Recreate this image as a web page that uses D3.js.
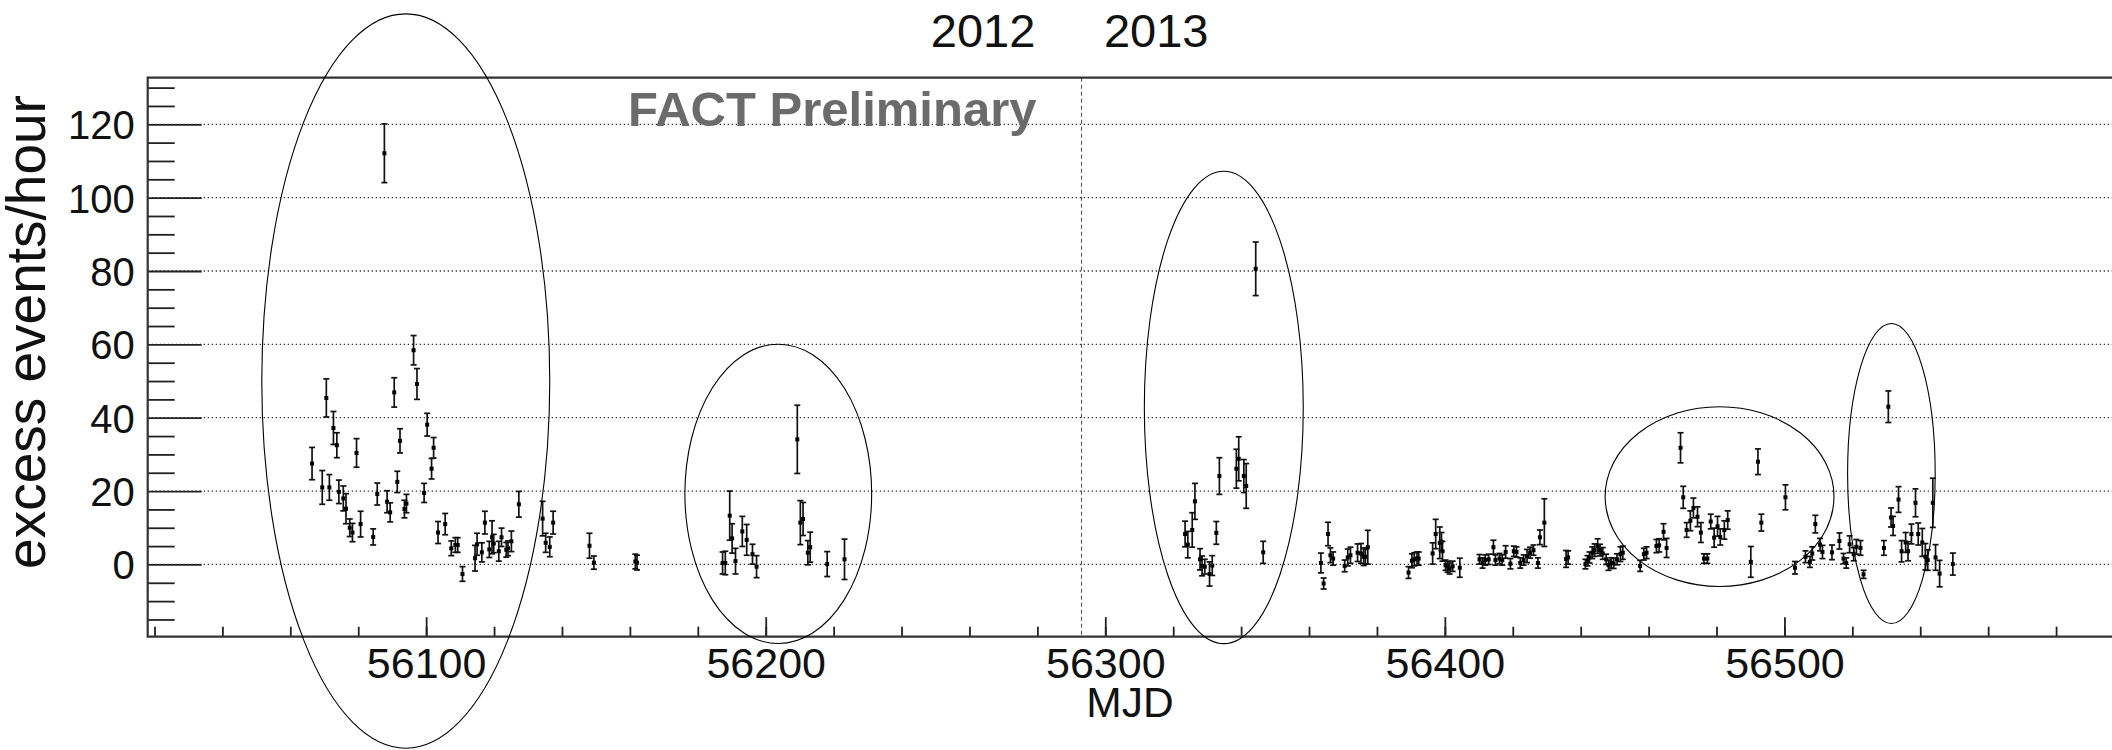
<!DOCTYPE html>
<html>
<head>
<meta charset="utf-8">
<script src="https://cdn.jsdelivr.net/npm/d3@7"></script>
<style>
  body { margin: 0; background: #fff; }
  svg text { font-family: "Liberation Sans", Arial, Helvetica, sans-serif; }
</style>
</head>
<body>
<div id="chart"></div>
<script>
// light curve: MJD, excess rate, error
var mjd = [
  56066.4, 56069.4, 56070.6, 56071.5, 56072.7, 56073.7, 56074.3, 56075.6, 56076.4, 56077.5,
  56078.3, 56079.5, 56080.7, 56084.4, 56085.6, 56087.7, 56088.5, 56089.4, 56090.6, 56091.5,
  56092.3, 56093.6, 56094.2, 56096.3, 56097.3, 56099.4, 56100.3, 56101.6, 56102.2, 56103.5,
  56105.6, 56107.4, 56108.6, 56109.3, 56110.7, 56114.4, 56115.0, 56116.4, 56117.3, 56118.6,
  56119.4, 56119.9, 56121.4, 56122.2, 56123.6, 56124.1, 56125.1, 56127.3, 56134.3, 56135.2,
  56136.4, 56137.4, 56148.1, 56149.4, 56161.6, 56162.1,
  56187.3, 56188.1, 56189.4, 56190.1, 56191.1, 56193.1, 56194.4, 56196.1, 56197.3, 56209.3,
  56210.2, 56211.0, 56212.4, 56213.1, 56218.1, 56223.2,
  56323.5, 56324.3, 56325.6, 56326.4, 56327.9, 56328.5, 56329.3, 56330.7, 56331.5, 56332.7,
  56333.6, 56338.6, 56339.3, 56340.8, 56341.5, 56344.3, 56346.5,
  56363.5, 56364.3, 56365.6, 56366.3, 56367.1, 56370.5, 56371.4, 56372.2, 56374.3, 56375.3,
  56376.1, 56376.6, 56377.3, 56389.3, 56390.3, 56391.0, 56391.8, 56392.3, 56396.4, 56397.3,
  56398.5, 56399.0, 56399.3, 56400.2, 56400.8, 56401.4, 56402.3, 56404.4, 56410.2, 56411.1,
  56411.9, 56412.9, 56414.3, 56414.9, 56416.1, 56416.9, 56417.9, 56419.3, 56420.3, 56421.1,
  56422.2, 56423.2, 56424.2, 56425.1, 56426.1, 56427.4, 56428.0, 56429.3, 56435.7, 56436.3,
  56441.4, 56442.0, 56442.6, 56443.4, 56444.1, 56445.0, 56445.7, 56446.5, 56447.5, 56448.2,
  56449.0, 56449.7, 56450.7, 56451.7, 56452.4, 56457.5, 56458.6, 56459.4, 56462.3, 56463.1,
  56464.4, 56465.3, 56469.4, 56470.2, 56471.2, 56472.3, 56473.2, 56474.4, 56475.4, 56476.3,
  56477.3, 56478.3, 56479.3, 56480.3, 56481.1, 56482.3, 56483.3, 56490.1, 56492.2, 56493.2,
  56500.3, 56503.1, 56506.2, 56507.5, 56508.2, 56509.1, 56510.5, 56511.2, 56514.0, 56516.2,
  56517.4, 56518.2, 56519.2, 56520.4, 56521.2, 56522.4, 56523.3, 56529.3, 56530.6, 56531.4,
  56532.0, 56533.6, 56534.5, 56535.7, 56536.4, 56537.4, 56538.6, 56539.4, 56540.6, 56541.5,
  56542.2, 56543.7, 56544.5, 56545.7, 56549.6
];
var rate = [
  27.5, 21.0, 45.4, 21.0, 37.2, 32.5, 19.8, 18.0, 15.2, 10.0,
  8.7, 30.4, 11.0, 7.5, 19.2, 112.1, 17.1, 14.2, 46.9, 22.5,
  33.7, 15.1, 16.6, 58.4, 49.2, 19.5, 38.1, 26.1, 31.8, 8.7,
  11.0, 4.4, 5.3, 5.3, -2.6, 1.7, 5.5, 3.3, 11.4, 4.1,
  7.4, 5.7, 3.6, 7.4, 4.0, 4.4, 6.3, 16.4, 12.5, 5.9,
  4.8, 11.4, 5.1, 0.5, 0.8, 0.5,
  0.4, 0.4, 13.3, 7.1, 0.9, 9.0, 6.7, 2.8, -0.6, 34.1,
  11.4, 12.4, 3.2, 4.7, 0.1, 1.4,
  8.3, 5.4, 9.4, 17.2, 1.4, -0.4, -0.6, -2.6, -0.3, 8.6,
  24.1, 26.1, 28.8, 24.1, 21.4, 80.6, 3.3,
  0.4, -5.2, 8.3, 2.5, 1.6, -0.4, 1.9, 2.5, 3.2, 3.0,
  2.1, 2.1, 4.7, -2.2, 1.0, 1.4, 1.6, 1.6, 3.0, 8.3,
  5.9, 6.2, 3.6, -0.2, -0.6, -1.1, -0.5, -0.9, 1.4, 0.4,
  1.2, 1.4, 4.7, 1.2, 1.6, 1.2, 3.4, 0.2, 3.6, 3.4,
  0.4, 1.2, 2.3, 3.2, 3.9, 0.4, 7.4, 11.4, 1.5, 1.9,
  0.1, 1.0, 1.9, 3.2, 3.9, 5.0, 3.9, 3.0, 1.4, -0.2,
  0.4, 0.3, 1.4, 2.8, 3.2, -0.4, 2.8, 3.2, 5.0, 5.2,
  8.9, 4.5, 31.8, 18.3, 9.4, 11.9, 15.4, 13.0, 8.7, 1.6,
  1.6, 11.7, 7.3, 10.4, 7.5, 9.4, 12.1, 0.7, 28.0, 11.4,
  18.3, -0.9, 2.1, 0.7, 3.0, 11.0, 5.4, 3.4, 3.3, 6.4,
  1.6, 0.4, 5.5, 2.8, 4.8, 4.5, -2.7, 4.5, 43.0, 12.8,
  10.5, 17.7, 3.6, 6.0, 3.6, 8.3, 16.8, 8.3, 6.0, 2.1,
  1.2, 16.8, 1.9, -2.5, 0.1
];
var rateErr = [
  4.4, 4.6, 5.2, 3.5, 4.5, 3.4, 3.2, 3.4, 4.1, 2.4,
  2.5, 3.9, 3.5, 2.2, 3.0, 8.0, 3.0, 2.6, 4.0, 2.9,
  3.3, 2.4, 2.5, 4.0, 4.2, 2.6, 3.1, 2.8, 2.8, 3.0,
  2.9, 2.0, 2.0, 2.0, 2.0, 3.5, 3.0, 2.6, 3.1, 2.2,
  4.5, 2.5, 2.7, 2.5, 2.0, 2.0, 2.8, 3.5, 4.7, 2.6,
  2.7, 3.1, 3.4, 1.8, 2.0, 2.0,
  3.0, 3.2, 6.7, 4.0, 3.5, 4.1, 4.2, 2.7, 3.0, 9.3,
  6.0, 4.5, 3.3, 4.1, 3.4, 5.5,
  3.5, 3.6, 4.7, 4.9, 2.9, 2.7, 2.0, 3.3, 2.7, 3.1,
  5.0, 5.3, 6.0, 4.5, 6.1, 7.3, 3.0,
  2.7, 1.5, 3.2, 2.0, 1.8, 1.6, 2.3, 2.2, 2.4, 2.7,
  2.4, 2.0, 4.6, 1.6, 1.9, 1.8, 1.8, 1.8, 2.9, 4.0,
  4.3, 2.5, 2.7, 1.4, 1.5, 1.5, 1.4, 2.6, 1.3, 1.4,
  1.4, 1.4, 1.9, 1.4, 1.4, 1.4, 1.7, 1.4, 1.4, 1.4,
  1.4, 1.4, 1.8, 1.5, 1.4, 1.4, 2.0, 6.5, 2.3, 1.8,
  1.3, 1.4, 1.5, 1.6, 1.7, 2.0, 1.6, 1.6, 1.4, 1.4,
  1.4, 1.4, 1.5, 2.0, 1.8, 1.5, 1.6, 1.6, 1.8, 1.8,
  2.2, 2.6, 4.1, 3.0, 2.0, 2.7, 2.7, 2.7, 2.7, 1.3,
  1.3, 2.0, 2.6, 2.7, 2.2, 2.5, 2.5, 4.2, 3.5, 2.3,
  3.4, 1.7, 1.6, 1.5, 1.8, 2.4, 1.7, 1.8, 2.0, 2.2,
  1.4, 1.4, 2.3, 1.8, 2.0, 2.0, 1.1, 2.0, 4.3, 2.6,
  2.6, 3.5, 2.9, 2.7, 2.6, 2.7, 3.8, 3.0, 3.8, 3.6,
  2.8, 6.7, 3.5, 3.6, 3.0
];

// flare regions circled by hand (centre MJD, centre rate, half width in days, half height in rate)
var flareMjd = [56094, 56203.7, 56334.9, 56480.9, 56531.5];
var flareRate = [50.0, 19.25, 42.8, 18.5, 24.8];
var flareHalfDays = [42.4, 27.5, 23.4, 33.7, 12.9];
var flareHalfRate = [100.1, 40.8, 64.4, 24.5, 40.9];

var yMajorTicks = [0, 20, 40, 60, 80, 100, 120];
var yMinorTicks = [-15, -10, -5, 5, 10, 15, 25, 30, 35, 45, 50, 55, 65, 70, 75, 85, 90, 95, 105, 110, 115, 125, 130];
var xMajorTicks = [56100, 56200, 56300, 56400, 56500];
var xMinorTicks = d3.range(56020, 56600, 20);

var yearBoundary = 56293;   // 1 Jan 2013
var years = ["2012", "2013"];
var yearLabelMjd = [56264, 56315];

var W = 2112, H = 750;
var frameLeft = 147.7, frameTop = 77.7, frameBottom = 636.7;

var svg = d3.select("#chart").append("svg")
    .attr("width", W)
    .attr("height", H);
svg.append("rect").attr("width", W).attr("height", H).attr("fill", "#fff");

var x = d3.scaleLinear().domain([56018, 56600]).range([frameLeft, 2124]);
var y = d3.scaleLinear().domain([-19.7, 132.7]).range([frameBottom, frameTop]);

// dotted grid
svg.append("g").selectAll("line")
    .data(yMajorTicks)
  .enter().append("line")
    .attr("x1", frameLeft).attr("x2", W)
    .attr("y1", function(d) { return y(d); })
    .attr("y2", function(d) { return y(d); })
    .attr("stroke", "#333")
    .attr("stroke-width", 1.3)
    .attr("stroke-dasharray", "1.3,2.7");

// 2012/2013 boundary
svg.append("line")
    .attr("x1", x(yearBoundary)).attr("x2", x(yearBoundary))
    .attr("y1", frameTop).attr("y2", frameBottom)
    .attr("stroke", "#555")
    .attr("stroke-width", 1.1)
    .attr("stroke-dasharray", "4,3");

// axes (ROOT style: ticks inside frame)
var yMaj = svg.append("g").attr("transform", "translate(" + frameLeft + ",0)")
    .call(d3.axisRight(y).tickValues(yMajorTicks).tickSize(54).tickFormat(""));
var yMin = svg.append("g").attr("transform", "translate(" + frameLeft + ",0)")
    .call(d3.axisRight(y).tickValues(yMinorTicks).tickSize(27).tickFormat(""));
var yLab = svg.append("g").attr("transform", "translate(" + frameLeft + ",0)")
    .call(d3.axisLeft(y).tickValues(yMajorTicks).tickSize(0).tickPadding(13));
yLab.selectAll("text").attr("font-size", "40px").attr("fill", "#111")
    .attr("dy", "0.36em")
    .style("font-family", "'Liberation Sans', Arial, sans-serif");

var xMaj = svg.append("g").attr("transform", "translate(0," + frameBottom + ")")
    .call(d3.axisTop(x).tickValues(xMajorTicks).tickSize(19.5).tickFormat(""));
var xMin = svg.append("g").attr("transform", "translate(0," + frameBottom + ")")
    .call(d3.axisTop(x).tickValues(xMinorTicks).tickSize(10).tickFormat(""));
var xLab = svg.append("g").attr("transform", "translate(0," + frameBottom + ")")
    .call(d3.axisBottom(x).tickValues(xMajorTicks).tickSize(0).tickPadding(11).tickFormat(d3.format("d")));
xLab.selectAll("text").attr("font-size", "43px").attr("fill", "#111")
    .style("font-family", "'Liberation Sans', Arial, sans-serif");

[yMaj, yMin, yLab, xMaj, xMin, xLab].forEach(function(g) {
  g.select(".domain").remove();
  g.selectAll("line").attr("stroke", "#222").attr("stroke-width", 1.8);
});

// frame
svg.append("path")
    .attr("d", "M" + W + "," + frameTop + "H" + frameLeft + "V" + frameBottom + "H" + W)
    .attr("fill", "none")
    .attr("stroke", "#333")
    .attr("stroke-width", 2.2);

// axis titles
svg.append("text")
    .attr("x", 1130).attr("y", 716.7)
    .attr("text-anchor", "middle")
    .attr("font-size", "42.5px")
    .attr("fill", "#111")
    .text("MJD");

svg.append("text")
    .attr("transform", "translate(45,332) rotate(-90)")
    .attr("text-anchor", "middle")
    .attr("font-size", "55px")
    .attr("fill", "#111")
    .text("excess events/hour");

// year labels above the frame
svg.append("g").selectAll("text")
    .data(years)
  .enter().append("text")
    .attr("x", function(d, i) { return x(yearLabelMjd[i]); })
    .attr("y", 46.7)
    .attr("text-anchor", "middle")
    .attr("font-size", "47px")
    .attr("fill", "#111")
    .text(function(d) { return d; });

svg.append("text")
    .attr("x", 628).attr("y", 126)
    .attr("font-size", "49px")
    .attr("font-weight", "bold")
    .attr("fill", "#6b6b6b")
    .text("FACT Preliminary");

// data with error bars
var pts = mjd.map(function(d, i) { return { t: d, v: rate[i], e: rateErr[i] }; });
var g = svg.append("g").attr("stroke", "#111").attr("stroke-width", 1.7);
var pt = g.selectAll(".pt").data(pts).enter().append("g").attr("class", "pt");
pt.append("line")
    .attr("x1", function(d) { return x(d.t); }).attr("x2", function(d) { return x(d.t); })
    .attr("y1", function(d) { return y(d.v - d.e); }).attr("y2", function(d) { return y(d.v + d.e); });
pt.append("line")
    .attr("x1", function(d) { return x(d.t) - 3; }).attr("x2", function(d) { return x(d.t) + 3; })
    .attr("y1", function(d) { return y(d.v + d.e); }).attr("y2", function(d) { return y(d.v + d.e); });
pt.append("line")
    .attr("x1", function(d) { return x(d.t) - 3; }).attr("x2", function(d) { return x(d.t) + 3; })
    .attr("y1", function(d) { return y(d.v - d.e); }).attr("y2", function(d) { return y(d.v - d.e); });
pt.append("rect")
    .attr("x", function(d) { return x(d.t) - 2; })
    .attr("y", function(d) { return y(d.v) - 2; })
    .attr("width", 4).attr("height", 4)
    .attr("stroke", "none")
    .attr("fill", "#000");

// hand-drawn ellipses
svg.append("g").selectAll("ellipse")
    .data(flareMjd)
  .enter().append("ellipse")
    .attr("cx", function(d) { return x(d); })
    .attr("cy", function(d, i) { return y(flareRate[i]); })
    .attr("rx", function(d, i) { return x(d + flareHalfDays[i]) - x(d); })
    .attr("ry", function(d, i) { return y(0) - y(flareHalfRate[i]); })
    .attr("fill", "none")
    .attr("stroke", "#000")
    .attr("stroke-width", 1.1);
</script>
</body>
</html>
